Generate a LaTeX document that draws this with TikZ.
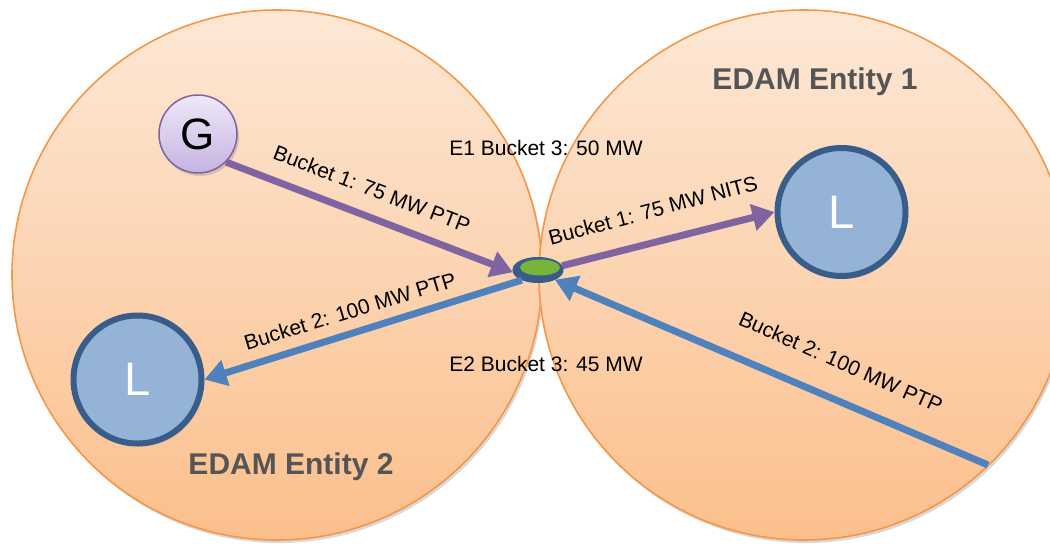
\documentclass[tikz,border=0pt]{standalone}
\usepackage{fontspec}
\setmainfont{Liberation Sans}
\usetikzlibrary{shadows,arrows.meta,shapes.geometric}
\definecolor{orng}{HTML}{F79646}
\definecolor{zonetop}{HTML}{FDE8D6}
\definecolor{zonebot}{HTML}{FBBF8C}
\definecolor{purp}{HTML}{8064A2}
\definecolor{blu}{HTML}{4F81BD}
\definecolor{lfill}{HTML}{95B3D7}
\definecolor{ldraw}{HTML}{385D8A}
\definecolor{gtop}{HTML}{EEE9F8}
\definecolor{gbot}{HTML}{C6B3E1}
\definecolor{hubgreen}{HTML}{77B43A}
\definecolor{ttlgray}{HTML}{555555}
\begin{document}
\begin{tikzpicture}[x=1pt,y=-1pt,
  zone/.style={draw=orng,line width=1.6pt,top color=zonetop,bottom color=zonebot,
    drop shadow={shadow xshift=2pt,shadow yshift=-3pt,opacity=0.3}},
  loadnode/.style={circle,draw=ldraw,line width=6pt,fill=lfill,minimum size=128pt,
    inner sep=0pt,text=white,font=\fontsize{47}{47}\selectfont,
    drop shadow={shadow xshift=2pt,shadow yshift=-3pt,opacity=0.3}},
  gennode/.style={circle,draw=purp,line width=1.5pt,top color=gtop,bottom color=gbot,
    minimum size=78pt,inner sep=0pt,font=\fontsize{44}{44}\selectfont,
    drop shadow={shadow xshift=2pt,shadow yshift=-3pt,opacity=0.3}},
  hubnode/.style={ellipse,draw=ldraw,fill=ldraw,line width=5pt,minimum width=46pt,
    minimum height=21pt,inner sep=0pt},
  parr/.style={draw=purp,line width=7pt,-{Triangle[length=22pt,width=26pt]}},
  barr/.style={draw=blu,line width=7pt,-{Triangle[length=22pt,width=26pt]}},
  lbl/.style={font=\fontsize{21}{24}\selectfont,inner sep=0pt},
  ttl/.style={font=\bfseries\fontsize{30}{34}\selectfont,text=ttlgray,inner sep=0pt}
]
\useasboundingbox (0,0) rectangle (1050,547);
\clip (0,0) rectangle (1050,547);
\path[zone] (277,275) circle [radius=265pt];
\path[zone] (804,275) circle [radius=265pt];

\node[gennode] (G) at (198,134) {G};
\node[loadnode] (LR) at (841.5,212) {L};
\node[loadnode] (LL) at (137.5,379.5) {L};
\node[hubnode] (hub) at (538,270) {};
\fill[hubgreen] (540,267.5) ellipse [x radius=20pt, y radius=8pt];
\coordinate (src) at (988,465);

\draw[parr] (G.south east) -- (hub.185);
\draw[parr] (hub.10) -- (LR.west);
\draw[barr] (hub.212) -- (LL.east);
\draw[barr] (src) -- (hub.-30);

\node[lbl,rotate=-21] (l1) at (372,189) {Bucket 1: 75 MW PTP};
\node[lbl] (e1) at (546,148) {E1 Bucket 3: 50 MW};
\node[lbl,rotate=15] (l2) at (653,210) {Bucket 1: 75 MW NITS};
\node[lbl,rotate=17] (l3) at (350,311) {Bucket 2: 100 MW PTP};
\node[lbl] (e2) at (546,364) {E2 Bucket 3: 45 MW};
\node[lbl,rotate=-24] (l4) at (841,362) {Bucket 2: 100 MW PTP};
\node[ttl] (t1) at (815,82) {EDAM Entity 1};
\node[ttl] (t2) at (291,467) {EDAM Entity 2};
\end{tikzpicture}
\end{document}
